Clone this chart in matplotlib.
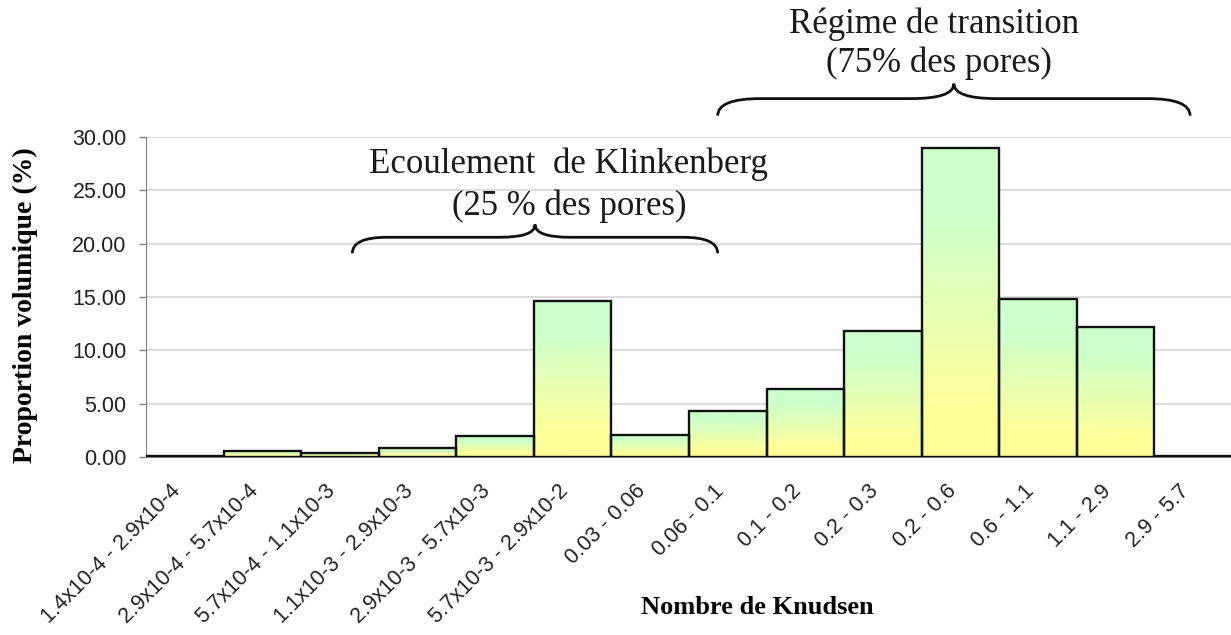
import numpy as np
import matplotlib
matplotlib.use("Agg")
import matplotlib.pyplot as plt
from matplotlib.path import Path
from matplotlib.patches import PathPatch

# classes de Knudsen et proportion volumique (%)
classes = ["1.4x10-4 - 2.9x10-4", "2.9x10-4 - 5.7x10-4", "5.7x10-4 - 1.1x10-3",
           "1.1x10-3 - 2.9x10-3", "2.9x10-3 - 5.7x10-3", "5.7x10-3 - 2.9x10-2",
           "0.03 - 0.06", "0.06 - 0.1", "0.1 - 0.2", "0.2 - 0.3", "0.2 - 0.6",
           "0.6 - 1.1", "1.1 - 2.9", "2.9 - 5.7"]
proportion = [0.08, 0.6, 0.4, 0.8, 1.95, 14.65, 2.1, 4.35, 6.35, 11.85, 29.0, 14.8, 12.15, 0.08]
yticks = [0, 5, 10, 15, 20, 25, 30]

serif = "Liberation Serif"
sans = "Liberation Sans"

fig = plt.figure(figsize=(12.31, 6.35), dpi=100)
ax = fig.add_axes([146 / 1231, 178 / 635, 1086 / 1231, 320 / 635])

x = np.arange(len(classes))
bars = ax.bar(x, proportion, width=1.0, facecolor="none", edgecolor="#111111",
              linewidth=1.7, zorder=3)

# degrade vert -> jaune dans chaque barre
vert = np.array([204, 255, 204]) / 255
jaune = np.array([255, 255, 153]) / 255
t = np.linspace(0, 1, 256)
m = np.clip((t - 0.2) / 0.65, 0, 1)[:, None]
grad = (vert * (1 - m) + jaune * m)[:, None, :]
for b in bars:
    x0, h, w = b.get_x(), b.get_height(), b.get_width()
    im = ax.imshow(grad, extent=(x0, x0 + w, 0, h), origin="upper",
                   aspect="auto", zorder=2, interpolation="bilinear")
    im.set_clip_path(b)

ax.set_xlim(-0.5, len(classes) - 0.5)
ax.set_ylim(0, 30)
ax.set_yticks(yticks)
ax.set_yticklabels(["%.2f" % v for v in yticks], fontsize=15.5, family=sans, color="#222222")
ax.set_xticks(x)
ax.set_xticklabels(classes, rotation=45, ha="right", fontsize=15.5, family=sans, color="#222222")
ax.tick_params(axis="x", length=0, pad=17)
ax.tick_params(axis="y", length=5, width=1, color="#808080", pad=9)
ax.yaxis.grid(True, color="#d9d9d9", linewidth=1.3)
ax.set_axisbelow(True)
for s in ["top", "right"]:
    ax.spines[s].set_visible(False)
ax.spines["left"].set_color("#808080")
ax.spines["bottom"].set_color("#808080")


def accolade(ax, x0, x1, y_bout, y_corps, y_pointe, r):
    xm = (x0 + x1) / 2
    verts = [(x0, y_bout), (x0, y_corps), (x0 + r, y_corps),
             (xm - r, y_corps),
             (xm, y_corps), (xm, y_pointe),
             (xm, y_corps), (xm + r, y_corps),
             (x1 - r, y_corps),
             (x1, y_corps), (x1, y_bout)]
    codes = [Path.MOVETO, Path.CURVE3, Path.CURVE3,
             Path.LINETO,
             Path.CURVE3, Path.CURVE3,
             Path.CURVE3, Path.CURVE3,
             Path.LINETO,
             Path.CURVE3, Path.CURVE3]
    ax.add_patch(PathPatch(Path(verts, codes), facecolor="none", edgecolor="#111111",
                           linewidth=2, clip_on=False, zorder=5))


accolade(ax, 2.16, 6.87, 19.1, 20.6, 21.8, 0.45)
accolade(ax, 6.87, 12.96, 32.0, 33.6, 35.0, 0.55)

ax.text(4.94, 26.6, "Ecoulement  de Klinkenberg", ha="center", va="baseline",
        fontsize=25, family=serif, color="#1a1a1a")
ax.text(4.95, 22.7, "(25 % des pores)", ha="center", va="baseline",
        fontsize=25, family=serif, color="#1a1a1a")
ax.text(9.66, 39.75, "Régime de transition", ha="center", va="baseline",
        fontsize=25, family=serif, color="#1a1a1a", clip_on=False)
ax.text(9.72, 36.1, "(75% des pores)", ha="center", va="baseline",
        fontsize=25, family=serif, color="#1a1a1a", clip_on=False)

fig.text(25 / 1231, 1 - 305 / 635, "Proportion volumique (%)", rotation=90,
         ha="center", va="center", fontsize=20, fontweight="bold", family=serif)
fig.text(757 / 1231, 1 - 607 / 635, "Nombre de Knudsen", ha="center", va="center",
         fontsize=19, fontweight="bold", family=serif)

fig.savefig("out.png", dpi=100)
